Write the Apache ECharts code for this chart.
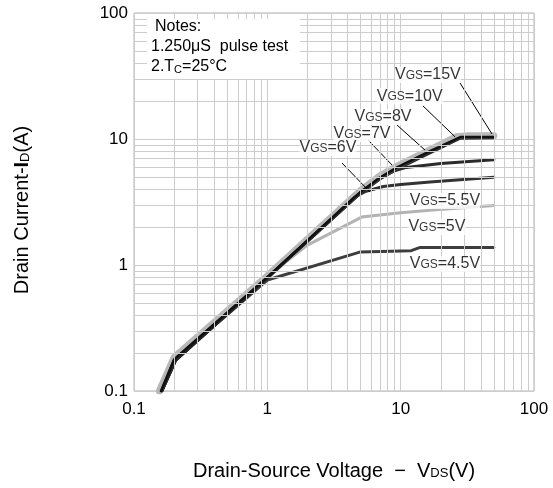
<!DOCTYPE html>
<html>
<head>
<meta charset="UTF-8">
<title>Output characteristics</title>
<script src="https://cdn.jsdelivr.net/npm/echarts@6/dist/echarts.min.js"></script>
<style>
html, body { margin: 0; padding: 0; background: #fff; }
#chart { width: 553px; height: 488px; }
</style>
</head>
<body>
<div id="chart"></div>
<script>
// curves: VDS (V) vs ID (A)
const vgsNames = ['15V', '10V', '8V', '7V', '6V', '5.5V', '5V', '4.5V'];
const vds15 = [0.155, 0.2, 1, 5, 7, 9.4, 16.6, 26, 32, 50];
const id15  = [0.1, 0.185, 0.82, 3.9, 5.1, 6.1, 8.2, 10.4, 10.6, 10.6];
const vds10 = [0.16, 0.2, 1, 5, 7, 9.4, 16.6, 28, 50];
const id10  = [0.1, 0.178, 0.8, 3.8, 4.95, 5.95, 8.0, 10.35, 10.35];
const vds8  = [0.16, 0.2, 1, 5, 7, 9.4, 16, 28, 50];
const id8   = [0.1, 0.178, 0.8, 3.75, 4.85, 5.8, 7.8, 10.2, 10.25];
const vds7  = [0.162, 0.205, 1, 5, 7, 9, 16, 28, 50];
const id7   = [0.1, 0.175, 0.79, 3.7, 4.8, 5.6, 7.6, 10.1, 10.2];
const vds6  = [0.162, 0.205, 1, 5, 7, 9, 11, 20, 50];
const id6   = [0.1, 0.175, 0.79, 3.75, 4.9, 5.6, 5.95, 6.4, 6.85];
const vds55 = [0.162, 0.205, 1, 4.5, 5.5, 7.4, 10, 16.6, 50];
const id55  = [0.1, 0.175, 0.79, 3.45, 3.85, 4.2, 4.35, 4.55, 4.97];
const vds5  = [0.155, 0.2, 1, 1.25, 2, 5.1, 10, 17.5, 50];
const id5   = [0.1, 0.18, 0.8, 0.98, 1.44, 2.4, 2.6, 2.73, 2.97];
const vds45 = [0.16, 0.2, 1, 5, 12, 14, 50];
const id45  = [0.1, 0.175, 0.76, 1.27, 1.3, 1.38, 1.38];

// label anchors and leader lines (data coordinates)
const labelVds = [16.0, 11.7, 7.37, 5.13, 2.85, 21.5, 18.7, 21.5];
const labelId  = [32.2, 21.9, 14.96, 10.96, 8.48, 3.22, 2.0, 1.02];
const leaders = [
  [[27.9, 27.8], [48.4, 10.96]],
  [[14.7, 18.3], [25.6, 10.4]],
  [[9.39, 12.9], [15.2, 8.18]],
  [[5.69, 9.82], [8.61, 6.22]],
  [[3.63, 6.45], [5.89, 3.79]]
];

// log grid helpers
const minorTicks = [0.2, 0.3, 0.4, 0.5, 0.6, 0.7, 0.8, 0.9, 2, 3, 4, 5, 6, 7, 8, 9, 20, 30, 40, 50, 60, 70, 80, 90];

const font = 'Liberation Sans';
const gridColor = '#cdcdcd';

function pairs(xs, ys) {
  return xs.map(function (x, i) { return [x, ys[i]]; });
}
function fmt(v) {
  return String(parseFloat(v.toPrecision(6)));
}

const curves = [
  { name: '15V', data: pairs(vds15, id15), color: '#b9b9b9', width: 7 },
  { name: '5V', data: pairs(vds5, id5), color: '#b3b3b3', width: 3 },
  { name: '4.5V', data: pairs(vds45, id45), color: '#3d3d3d', width: 3 },
  { name: '5.5V', data: pairs(vds55, id55), color: '#333333', width: 3 },
  { name: '6V', data: pairs(vds6, id6), color: '#2b2b2b', width: 3 },
  { name: '7V', data: pairs(vds7, id7), color: '#262626', width: 2.5 },
  { name: '8V', data: pairs(vds8, id8), color: '#4a4a4a', width: 2 },
  { name: '10V', data: pairs(vds10, id10), color: '#111111', width: 2.5 }
];

const series = [];

// minor grid lines
series.push({
  type: 'line', data: [], silent: true, z: 1,
  markLine: {
    silent: true, symbol: 'none', animation: false,
    label: { show: false },
    lineStyle: { color: gridColor, width: 1, type: 'solid' },
    data: minorTicks.map(function (v) { return { xAxis: v }; })
      .concat(minorTicks.map(function (v) { return { yAxis: v }; }))
  }
});

curves.forEach(function (c) {
  series.push({
    name: c.name, type: 'line', data: c.data, showSymbol: false, symbol: 'none',
    smooth: false, z: 3,
    lineStyle: { color: c.color, width: c.width, cap: 'round', join: 'round' }
  });
});

leaders.forEach(function (l) {
  series.push({
    type: 'line', data: l, symbol: 'none', silent: true, z: 4,
    lineStyle: { color: '#000', width: 1 }
  });
});

series.push({
  type: 'scatter', symbolSize: 1, z: 5, silent: true,
  itemStyle: { color: 'transparent' },
  data: labelVds.map(function (x, i) { return [x, labelId[i], vgsNames[i]]; }),
  label: {
    show: true, position: 'inside',
    formatter: function (p) { return '{v|V}{s|GS}{v|=' + p.data[2] + '}'; },
    rich: {
      v: { fontFamily: font, fontSize: 16, color: '#000', verticalAlign: 'bottom', backgroundColor: '#fff' },
      s: { fontFamily: font, fontSize: 12, color: '#000', verticalAlign: 'bottom', padding: [0, 0, 1, 0], backgroundColor: '#fff' }
    }
  }
});

const noteStyle = { fontFamily: font, fontSize: 16, fill: '#000' };

const chart = echarts.init(document.getElementById('chart'), null, { renderer: 'canvas' });
chart.setOption({
  animation: false,
  backgroundColor: '#fff',
  grid: { left: 134, right: 19, top: 13, bottom: 97, show: true, borderColor: '#b5b5b5', borderWidth: 1, backgroundColor: 'transparent' },
  xAxis: {
    type: 'log', logBase: 10, min: 0.1, max: 100,
    axisLine: { show: false }, axisTick: { show: false },
    splitLine: { show: true, lineStyle: { color: gridColor, width: 1 } },
    axisLabel: { fontFamily: font, fontSize: 17, color: '#000', margin: 10, formatter: fmt },
    name: '{t|Drain-Source Voltage  \u2212  V}{s|DS}{t|(V)}',
    nameLocation: 'middle', nameGap: 70,
    nameTextStyle: {
      rich: {
        t: { fontFamily: font, fontSize: 20, color: '#000', verticalAlign: 'bottom' },
        s: { fontFamily: font, fontSize: 13, color: '#000', verticalAlign: 'bottom', padding: [0, 0, 1, 0] }
      }
    }
  },
  yAxis: {
    type: 'log', logBase: 10, min: 0.1, max: 100,
    axisLine: { show: false }, axisTick: { show: false },
    splitLine: { show: true, lineStyle: { color: gridColor, width: 1 } },
    axisLabel: { fontFamily: font, fontSize: 17, color: '#000', margin: 6, formatter: fmt },
    name: '{t|Drain Current-}{b|I}{s|D}{t|(A)}',
    nameLocation: 'middle', nameGap: 102,
    nameTextStyle: {
      padding: [0, 16, 0, 0],
      rich: {
        t: { fontFamily: font, fontSize: 20, color: '#000', verticalAlign: 'bottom' },
        b: { fontFamily: font, fontSize: 20, fontWeight: 'bold', color: '#000', verticalAlign: 'bottom' },
        s: { fontFamily: font, fontSize: 13, color: '#000', verticalAlign: 'bottom' }
      }
    }
  },
  graphic: [
    { type: 'rect', left: 147, top: 19, z: 100, shape: { width: 153, height: 60 }, style: { fill: '#fff' } },
    { type: 'text', left: 155, top: 19, z: 101, style: Object.assign({ text: 'Notes:' }, noteStyle) },
    { type: 'text', left: 151, top: 39, z: 101, style: Object.assign({ text: '1.250\u03bcS  pulse test' }, noteStyle) },
    { type: 'text', left: 151, top: 59, z: 101, style: {
        text: '{t|2.T}{s|C}{t|=25\u00b0C}',
        rich: {
          t: { fontFamily: font, fontSize: 16, fill: '#000', verticalAlign: 'bottom' },
          s: { fontFamily: font, fontSize: 11, fill: '#000', verticalAlign: 'bottom' }
        }
    } }
  ],
  series: series
});
window.addEventListener('resize', function () { chart.resize(); });
</script>
</body>
</html>
